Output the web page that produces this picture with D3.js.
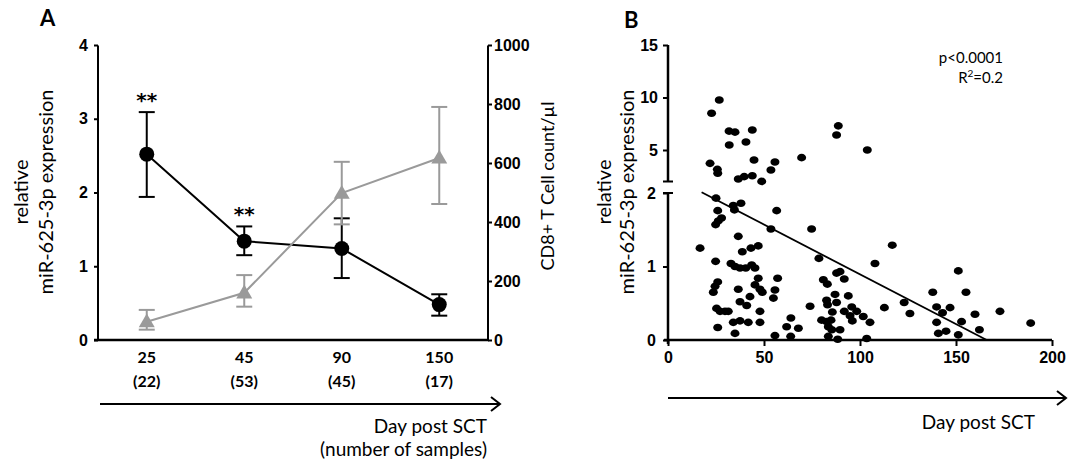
<!DOCTYPE html>
<html>
<head>
<meta charset="utf-8">
<script src="https://cdn.jsdelivr.net/npm/d3@7"></script>
<style>
  body { margin: 0; background: #fff; }
  svg { display: block; font-family: Lato, "Open Sans", sans-serif; }
</style>
</head>
<body>
<svg id="chart" width="1075" height="459"></svg>
<script>
// panel A: time points, sample counts and the two series
var daysA = ["25", "45", "90", "150"];
var samplesA = ["(22)", "(53)", "(45)", "(17)"];
var mirMean = [2.52, 1.34, 1.24, 0.48];
var mirLow = [1.94, 1.15, 0.84, 0.33];
var mirHigh = [3.09, 1.54, 1.65, 0.62];
var cd8Mean = [62, 160, 498, 617];
var cd8Low = [35, 113, 392, 461];
var cd8High = [102, 220, 604, 790];
var sigA = ["**", "**", "", ""];
var leftTicksA = [0, 1, 2, 3, 4];
var rightTicksA = [0, 200, 400, 600, 800, 1000];

// panel B: day post SCT vs relative expression
var scatterB = [
  [26.7, 9.76], [22.7, 8.5], [31.8, 6.8], [34.9, 6.7], [43.9, 6.9], [40.6, 5.76], [31.9, 5.48],
  [21.9, 3.73], [25.7, 3.16], [25.9, 2.78], [44.8, 4.05], [55.7, 3.86], [53.6, 3.1], [36.6, 2.24],
  [39.7, 2.46], [43.9, 2.55], [48.8, 2.01], [69.6, 4.27], [88.7, 7.3], [87.8, 6.43], [103.8, 5.0],
  [25, 1.93], [25.9, 1.76], [27.9, 1.66], [26.2, 1.62], [24.8, 1.57], [34, 1.83], [34.6, 1.77],
  [38, 1.86], [56.6, 1.76], [53.6, 1.51], [36.6, 1.41], [16.7, 1.25], [38.7, 1.2], [43.2, 1.25],
  [47, 1.28], [24.8, 1.07], [32.8, 1.04], [34.9, 1.0], [37.5, 0.98], [40.5, 0.98], [43.6, 1.02],
  [45.3, 0.98], [47, 0.84], [57.1, 0.84], [25.9, 0.79], [24.5, 0.73], [23.6, 0.65], [36.6, 0.69],
  [45.3, 0.75], [47.9, 0.69], [49.1, 0.65], [42.7, 0.59], [37.5, 0.52], [41, 0.47], [55.7, 0.68],
  [54.9, 0.57], [25.3, 0.43], [27.1, 0.39], [29.7, 0.39], [31.4, 0.39], [47.9, 0.39], [47.9, 0.24],
  [34, 0.24], [37.5, 0.26], [41.8, 0.24], [25.9, 0.17], [34.9, 0.09], [55.7, 0.06], [61.8, 0.18],
  [64, 0.3], [67.9, 0.16], [63.9, 0.05],
  [74.8, 1.51], [78.6, 1.11], [116.8, 1.29], [107.8, 1.04], [80.9, 0.82], [83, 0.76], [87.8, 0.91],
  [89.6, 0.93], [91.8, 0.83], [87, 0.62], [82.6, 0.54], [83.1, 0.48], [87.8, 0.51], [93.9, 0.6],
  [74, 0.46], [85.6, 0.38], [91.8, 0.39], [95.7, 0.45], [98.3, 0.39], [94.8, 0.33], [96, 0.26],
  [101.7, 0.32], [105.2, 0.24], [80, 0.27], [82.6, 0.25], [84.9, 0.27], [83.5, 0.18], [85.3, 0.14],
  [89.6, 0.14], [83.5, 0.05], [88.4, 0.01], [103.5, 0.02], [112.7, 0.44], [123, 0.51], [126, 0.36],
  [151.2, 0.94], [137.9, 0.65], [155.2, 0.65], [139.9, 0.45], [143, 0.37], [146.9, 0.44],
  [159.9, 0.35], [172.9, 0.39], [188.9, 0.23], [139.9, 0.24], [152.9, 0.25], [162.2, 0.14],
  [140.8, 0.09], [144.8, 0.12], [151.2, 0.07]
];
var fitB = [[17.5, 2.01], [166, 0]];
var xTicksB = [0, 50, 100, 150, 200];
var upperTicksB = [5, 10, 15];
var lowerTicksB = [0, 1, 2];

var svg = d3.select("#chart");
var gray = "#9a9a9a";

// ---------- panel A ----------
var xA = d3.scalePoint().domain(daysA).range([98, 488]).padding(0.5);
var yL = d3.scaleLinear().domain([0, 4]).range([340, 45]);
var yR = d3.scaleLinear().domain([0, 1000]).range([340, 45]);

var gA = svg.append("g");

gA.append("g").attr("transform", "translate(98,0)")
  .call(d3.axisLeft(yL).tickValues(leftTicksA).tickSize(4).tickPadding(6).tickFormat(d3.format("d")));
gA.append("g").attr("transform", "translate(488,0)")
  .call(d3.axisRight(yR).tickValues(rightTicksA).tickSize(4).tickPadding(2).tickFormat(d3.format("d")));
gA.selectAll(".domain, .tick line").attr("stroke", "#000").attr("stroke-width", 2);
gA.selectAll(".tick text").attr("font-size", 16).attr("font-weight", "bold").attr("fill", "#000");
gA.selectAll(".domain").each(function () {
  // drop the outer tick stubs, keep only the spine
  var s = d3.select(this), d = s.attr("d");
  s.attr("d", d.replace(/^M[-\d.]+,([-\d.]+)H[-\d.]+V([-\d.]+)H[-\d.]+$/, "M0,$1V$2"));
});

// bottom line of panel A
gA.append("line").attr("x1", 94).attr("x2", 489).attr("y1", yL(0)).attr("y2", yL(0))
  .attr("stroke", "#000").attr("stroke-width", 2.5);

gA.selectAll("text.day").data(daysA).enter().append("text")
  .attr("x", function (d) { return xA(d); }).attr("y", 363)
  .attr("text-anchor", "middle").attr("font-size", 16).attr("font-weight", "bold").text(function (d) { return d; });
gA.selectAll("text.n").data(samplesA).enter().append("text")
  .attr("x", function (d, i) { return xA(daysA[i]); }).attr("y", 387)
  .attr("text-anchor", "middle").attr("font-size", 16).attr("font-weight", "bold").text(function (d) { return d; });

// black series: miR-625-3p
gA.append("path").datum(mirMean)
  .attr("d", d3.line().x(function (d, i) { return xA(daysA[i]); }).y(function (d) { return yL(d); }))
  .attr("fill", "none").attr("stroke", "#000").attr("stroke-width", 2);
daysA.forEach(function (day, i) {
  var x = xA(day);
  gA.append("line").attr("x1", x).attr("x2", x).attr("y1", yL(mirLow[i])).attr("y2", yL(mirHigh[i]))
    .attr("stroke", "#000").attr("stroke-width", 2);
  [mirLow[i], mirHigh[i]].forEach(function (v) {
    gA.append("line").attr("x1", x - 8).attr("x2", x + 8).attr("y1", yL(v)).attr("y2", yL(v))
      .attr("stroke", "#000").attr("stroke-width", 2);
  });
});
gA.selectAll("circle.mir").data(mirMean).enter().append("circle")
  .attr("cx", function (d, i) { return xA(daysA[i]); }).attr("cy", function (d) { return yL(d); })
  .attr("r", 7.5).attr("fill", "#000");

// gray series: CD8+ T cells
gA.append("path").datum(cd8Mean)
  .attr("d", d3.line().x(function (d, i) { return xA(daysA[i]); }).y(function (d) { return yR(d); }))
  .attr("fill", "none").attr("stroke", gray).attr("stroke-width", 2);
daysA.forEach(function (day, i) {
  var x = xA(day);
  gA.append("line").attr("x1", x).attr("x2", x).attr("y1", yR(cd8Low[i])).attr("y2", yR(cd8High[i]))
    .attr("stroke", gray).attr("stroke-width", 2);
  [cd8Low[i], cd8High[i]].forEach(function (v) {
    gA.append("line").attr("x1", x - 8).attr("x2", x + 8).attr("y1", yR(v)).attr("y2", yR(v))
      .attr("stroke", gray).attr("stroke-width", 2);
  });
});
gA.selectAll("path.tri").data(cd8Mean).enter().append("path")
  .attr("d", d3.symbol().type(d3.symbolTriangle).size(110))
  .attr("transform", function (d, i) { return "translate(" + xA(daysA[i]) + "," + (yR(d) + 1) + ")"; })
  .attr("fill", gray);

gA.selectAll("text.sig").data(sigA).enter().append("text")
  .attr("x", function (d, i) { return xA(daysA[i]); })
  .attr("y", function (d, i) { return yL(mirHigh[i]) - 5; })
  .attr("text-anchor", "middle").attr("font-family", "'DejaVu Sans', sans-serif")
  .attr("font-size", 20).attr("font-weight", "bold").attr("fill", "#000").text(function (d) { return d; });

gA.append("text").attr("transform", "translate(28,192) rotate(-90)")
  .attr("text-anchor", "middle").attr("font-size", 20).text("relative");
gA.append("text").attr("transform", "translate(53,192) rotate(-90)")
  .attr("text-anchor", "middle").attr("font-size", 20).text("miR-625-3p expression");
gA.append("text").attr("transform", "translate(554,186) rotate(-90)")
  .attr("text-anchor", "middle").attr("font-size", 18).text("CD8+ T Cell count/\u00b5l");

gA.append("text").attr("x", 40).attr("y", 26).attr("font-size", 22).attr("font-weight", "bold").text("A");

function arrow(g, x1, x2, y) {
  g.append("line").attr("x1", x1).attr("x2", x2).attr("y1", y).attr("y2", y)
    .attr("stroke", "#000").attr("stroke-width", 2);
  g.append("path").attr("d", "M" + (x2 - 9) + "," + (y - 7) + "L" + x2 + "," + y + "L" + (x2 - 9) + "," + (y + 7))
    .attr("fill", "none").attr("stroke", "#000").attr("stroke-width", 2);
}
arrow(gA, 100, 500, 404);
gA.append("text").attr("x", 487).attr("y", 433).attr("text-anchor", "end").attr("font-size", 19).text("Day post SCT");
gA.append("text").attr("x", 487).attr("y", 456).attr("text-anchor", "end").attr("font-size", 19).text("(number of samples)");

// ---------- panel B ----------
var xB = d3.scaleLinear().domain([0, 200]).range([668, 1052]);
var yUp = d3.scaleLinear().domain([2, 15]).range([181.5, 45]);
var yLo = d3.scaleLinear().domain([0, 2]).range([340, 193]);
function yB(v) { return v > 2 ? yUp(v) : yLo(v); }

var gB = svg.append("g");
gB.append("g").attr("transform", "translate(668,0)")
  .call(d3.axisLeft(yUp).tickValues(upperTicksB).tickSize(5).tickPadding(5).tickFormat(d3.format("d")));
gB.append("g").attr("transform", "translate(668,0)")
  .call(d3.axisLeft(yLo).tickValues(lowerTicksB).tickSize(5).tickPadding(7).tickFormat(d3.format("d")));
gB.append("g").attr("transform", "translate(0,340)")
  .call(d3.axisBottom(xB).tickValues(xTicksB).tickSize(6).tickPadding(6).tickFormat(d3.format("d")));
gB.selectAll(".tick line").attr("stroke", "#000").attr("stroke-width", 2);
gB.selectAll(".domain").remove();
gB.selectAll(".tick text").attr("font-size", 16).attr("font-weight", "bold").attr("fill", "#000");

// axis spines with the break between 2 and 5
gB.append("line").attr("x1", 668).attr("x2", 668).attr("y1", yUp(15)).attr("y2", yUp(2))
  .attr("stroke", "#000").attr("stroke-width", 2.5);
gB.append("line").attr("x1", 663).attr("x2", 673).attr("y1", yUp(2)).attr("y2", yUp(2))
  .attr("stroke", "#000").attr("stroke-width", 2);
gB.append("line").attr("x1", 668).attr("x2", 668).attr("y1", yLo(2)).attr("y2", 344)
  .attr("stroke", "#000").attr("stroke-width", 2.5);
gB.append("line").attr("x1", 663).attr("x2", 673).attr("y1", yLo(2)).attr("y2", yLo(2))
  .attr("stroke", "#000").attr("stroke-width", 2);
gB.append("line").attr("x1", 664).attr("x2", xB(200)).attr("y1", 340).attr("y2", 340)
  .attr("stroke", "#000").attr("stroke-width", 2.5);

gB.selectAll("ellipse.pt").data(scatterB).enter().append("ellipse")
  .attr("cx", function (d) { return xB(d[0]); }).attr("cy", function (d) { return yB(d[1]); })
  .attr("rx", 4.5).attr("ry", 3.8).attr("fill", "#000");

gB.append("path").datum(fitB)
  .attr("d", d3.line().x(function (d) { return xB(d[0]); }).y(function (d) { return yLo(d[1]); }))
  .attr("stroke", "#000").attr("stroke-width", 1.8).attr("fill", "none");

gB.append("text").attr("x", 1003).attr("y", 63).attr("text-anchor", "end").attr("font-size", 15).text("p<0.0001");
var r2 = gB.append("text").attr("x", 1003).attr("y", 83).attr("text-anchor", "end").attr("font-size", 15);
r2.append("tspan").text("R");
r2.append("tspan").attr("dy", -6).attr("font-size", 10).text("2");
r2.append("tspan").attr("dy", 6).text("=0.2");

gB.append("text").attr("transform", "translate(611,192) rotate(-90)")
  .attr("text-anchor", "middle").attr("font-size", 20).text("relative");
gB.append("text").attr("transform", "translate(634,192) rotate(-90)")
  .attr("text-anchor", "middle").attr("font-size", 20).text("miR-625-3p expression");

gB.append("text").attr("x", 624).attr("y", 28).attr("font-size", 22).attr("font-weight", "bold").text("B");

arrow(gB, 668, 1066, 398);
gB.append("text").attr("x", 1035).attr("y", 429).attr("text-anchor", "end").attr("font-size", 19).text("Day post SCT");
</script>
</body>
</html>
